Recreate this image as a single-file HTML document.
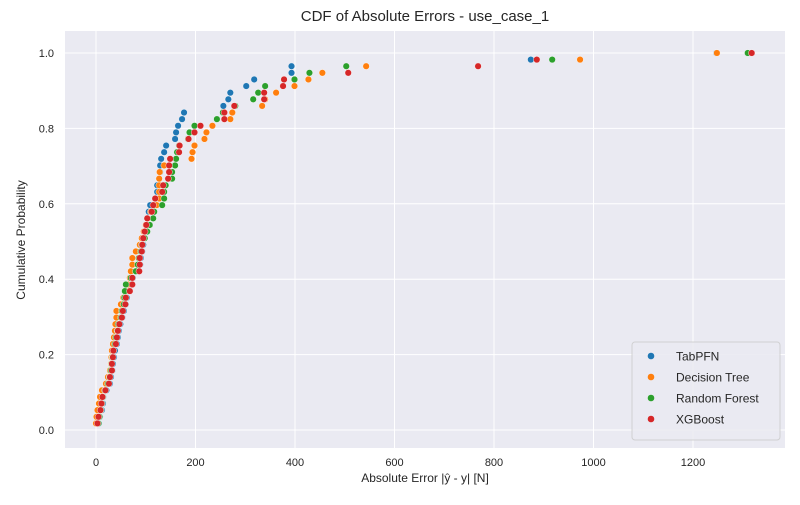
<!DOCTYPE html>
<html><head><meta charset="utf-8"><style>
body{margin:0;background:#fff;font-family:"Liberation Sans",Arial,sans-serif;}
svg text{font-family:"Liberation Sans",Arial,sans-serif;fill:#262626;}
</style></head><body>
<svg id="chart" width="800" height="500" xmlns="http://www.w3.org/2000/svg">
<rect x="0" y="0" width="800" height="500" fill="#fff"/>
<rect x="65" y="31" width="720" height="417" fill="#eaeaf2"/>
<g id="grid"></g>
<g id="ticks"></g>
<g id="marks"></g>
<text x="425" y="21" text-anchor="middle" font-size="15">CDF of Absolute Errors - use_case_1</text>
<text x="425" y="482" text-anchor="middle" font-size="12">Absolute Error |ŷ - y| [N]</text>
<text x="25" y="240" text-anchor="middle" font-size="12" transform="rotate(-90 25 240)">Cumulative Probability</text>
<g id="legend"></g>
</svg>
<script>
const seriesNames = ["TabPFN","Decision Tree","Random Forest","XGBoost"];
const seriesColors = ["#1f77b4","#ff7f0e","#2ca02c","#d62728"];
const tabpfn = [6,8,12,14,15,21,28,30,33,34,36,38,42,44,46,49,53,56,60,62,66,70,74,85,89,90,93,95,97,100,103,105,106,109,119,123,123,127,129,129,131,137,141,159,161,165,173,177,256,266,270,302,318,393,393,874,1247];
const decisionTree = [0,1,3,6,8,12,20,24,28,30,31,32,34,36,38,39,41,41,50,55,60,64,68,70,73,73,80,88,92,96,100,104,110,122,127,127,127,127,128,137,192,194,198,218,222,234,270,274,334,340,362,399,427,455,543,973,1248];
const randomForest = [5,7,10,12,14,18,24,27,30,31,33,35,38,40,43,45,50,52,56,57,58,60,70,80,84,86,90,92,98,103,108,115,117,133,137,137,140,153,153,159,161,163,167,185,188,198,243,255,280,316,326,340,399,429,503,917,1310];
const xgboost = [3,5,9,11,13,19,26,28,32,32,34,35,40,42,44,47,52,54,59,60,68,73,73,87,88,88,92,93,95,98,101,103,112,115,119,133,135,145,147,147,149,167,168,186,198,210,258,258,278,338,338,376,378,507,768,886,1318];
const xTicks = [0,200,400,600,800,1000,1200];
const yTicks = [0.0,0.2,0.4,0.6,0.8,1.0];
const allSeries = [tabpfn, decisionTree, randomForest, xgboost];
const NS="http://www.w3.org/2000/svg";
function xs(v){return 96 + v*(693-96)/1200;}
function ys(p){return 430 - p*(430-53);}
function mk(tag,attrs,parent){const e=document.createElementNS(NS,tag);for(const k in attrs)e.setAttribute(k,attrs[k]);parent.appendChild(e);return e;}
const grid=document.getElementById('grid'), ticks=document.getElementById('ticks'), marks=document.getElementById('marks');
xTicks.forEach(t=>{
  const l=mk('line',{x1:xs(t),x2:xs(t),y1:31,y2:448,stroke:'#fff','stroke-width':1},grid);
  
  
  const tx=mk('text',{x:xs(t),y:466,'text-anchor':'middle','font-size':11},ticks);
  tx.textContent=String(t);
  
  
});
yTicks.forEach(t=>{
  const l=mk('line',{x1:65,x2:785,y1:ys(t),y2:ys(t),stroke:'#fff','stroke-width':1},grid);
  
  
  const tx=mk('text',{x:54,y:ys(t)+4,'text-anchor':'end','font-size':11},ticks);
  tx.textContent=t.toFixed(1);
  
  
});
allSeries.forEach((arr,si)=>{
  const n=arr.length;
  arr.forEach((v,i)=>{
    const c=mk('circle',{cx:xs(v),cy:ys((i+1)/n),r:3.3,fill:seriesColors[si],stroke:'#fff','stroke-width':0.4},marks);
    
    
  });
});
const lg=document.getElementById('legend');
const box=mk('rect',{x:632,y:342,width:148,height:98,rx:3,fill:'#eaeaf2',stroke:'#cccccc','stroke-width':1,opacity:0.85},lg);


seriesNames.forEach((nm,i)=>{
  const y=356+i*21;
  const c=mk('circle',{cx:651,cy:y,r:3.3,fill:seriesColors[i]},lg);
  
  
  const t=mk('text',{x:676,y:y+4.5,'font-size':12},lg);
  t.textContent=nm;
  
  
});
</script>
</body></html>
